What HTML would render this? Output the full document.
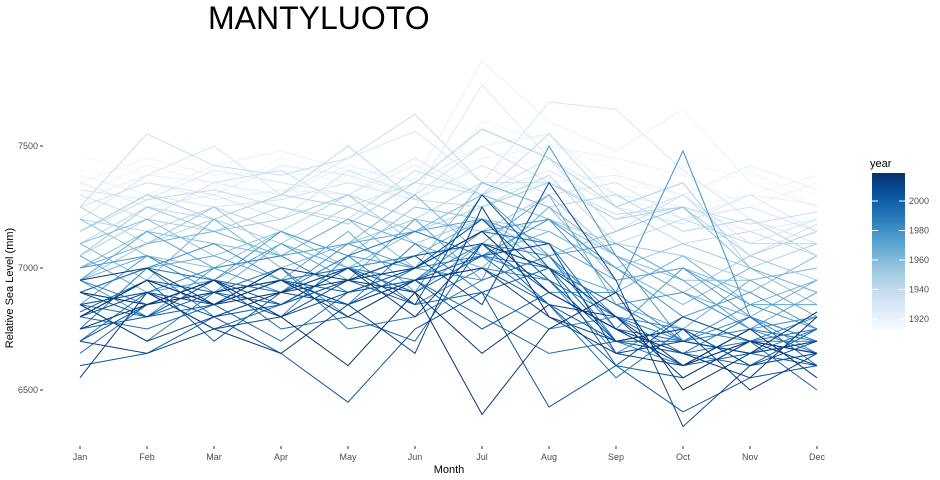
<!DOCTYPE html>
<html><head><meta charset="utf-8"><style>
body{margin:0;background:#fff;font-family:"Liberation Sans",sans-serif}
svg{display:block}
</style></head><body>
<svg id="chart" width="940" height="480">
<defs><linearGradient id="cb" x1="0" y1="1" x2="0" y2="0">
<stop offset="0" stop-color="#F7FBFF"/><stop offset="0.125" stop-color="#DEEBF7"/><stop offset="0.25" stop-color="#C6DBEF"/><stop offset="0.375" stop-color="#9ECAE1"/><stop offset="0.5" stop-color="#6BAED6"/><stop offset="0.625" stop-color="#4292C6"/><stop offset="0.75" stop-color="#2171B5"/><stop offset="0.875" stop-color="#08519C"/><stop offset="1" stop-color="#08306B"/></linearGradient></defs>
<text x="208" y="29" font-size="32" fill="#000">MANTYLUOTO</text>
<g id="lines"></g>
<g id="axes"></g>
<text transform="translate(13,288) rotate(-90)" text-anchor="middle" font-size="11" fill="#000">Relative Sea Level (mm)</text>
<text x="449" y="473" text-anchor="middle" font-size="11" fill="#000">Month</text>
<g>
<text x="870" y="167" font-size="11" fill="#000">year</text>
<rect x="872" y="173" width="33" height="157" fill="url(#cb)"/>
<g id="cbticks"></g>
</g>
</svg>
<script>
const months=["Jan","Feb","Mar","Apr","May","Jun","Jul","Aug","Sep","Oct","Nov","Dec"];
const yTicks=[6500,7000,7500];
const legendYears=[1920,1940,1960,1980,2000];
const years=[1912,1915,1918,1921,1924,1927,1930,1933,1936,1939,1942,1945,1948,1951,1954,1957,1960,1963,1966,1969,1972,1975,1978,1981,1984,1987,1990,1993,1996,1999,2002,2005,2008,2011,2014,2016,
1913,1917,1920,1926,1932,1938,1944,1950,1956,1962,1968,1974,1977,1980,1983,1986,1989,1992,1995,1998,2001,2004,2007,2010,2013,2015];
const levels=[
[7460,7380,7420,7350,7300,7280,7390,7450,7300,7420,7380,7300],
[7300,7420,7350,7280,7380,7250,7600,7520,7400,7250,7300,7380],
[7380,7300,7420,7480,7400,7360,7850,7600,7480,7650,7350,7250],
[7250,7350,7280,7320,7300,7420,7300,7350,7380,7300,7420,7320],
[7350,7250,7300,7420,7380,7300,7750,7450,7300,7250,7150,7200],
[7200,7380,7500,7300,7450,7560,7350,7680,7650,7400,7200,7100],
[7150,7300,7250,7280,7350,7280,7420,7300,7350,7200,7250,7150],
[7300,7200,7350,7400,7250,7350,7300,7450,7150,7300,7050,7180],
[7250,7550,7420,7380,7450,7630,7350,7350,7220,7250,7180,7230],
[7100,7250,7200,7300,7500,7280,7250,7380,7100,7200,7100,7100],
[7200,7150,7250,7150,7300,7200,7350,7250,7300,7150,7200,7050],
[7050,7200,7150,7250,7180,7350,7570,7450,7250,7350,7000,7100],
[7150,7300,7200,7100,7250,7150,7300,7200,7100,7050,6950,7000],
[6950,7100,7250,7050,7100,7200,7150,7300,7050,6900,7050,6950],
[7200,7050,7000,7150,7050,7250,7200,7050,7150,7250,7000,6850],
[7000,7150,7100,7050,7200,7000,7350,7250,6950,7000,6900,7050],
[7100,6950,7200,7000,7100,7300,7050,7150,7000,6850,7000,6900],
[6950,7050,6900,7100,7000,7050,7200,7000,6900,7050,6850,6950],
[6900,7000,7050,6950,7150,6900,7100,7300,6850,6750,6950,6800],
[7050,6900,6950,7100,6950,7200,6950,7050,7100,6950,6750,6900],
[6850,7050,6900,6950,7000,6900,7300,7050,6750,7000,6800,6700],
[6950,6800,7000,6900,7100,7000,6950,7500,7050,6700,6850,6750],
[6800,6950,6850,7000,6800,6950,7150,6900,6900,7480,6800,6650],
[6900,6850,6950,6800,7050,6850,7000,6950,6650,6800,6700,6800],
[6750,7000,6800,6900,6850,7100,6900,6750,6800,6700,6650,6750],
[6850,6700,6900,7000,6750,6800,6950,7050,6700,6600,6750,6700],
[6700,6900,6750,6850,7000,6900,7050,6850,6550,6750,6600,6650],
[6800,6750,6850,6700,6900,6950,6800,6650,6700,6650,6800,6600],
[6650,6850,6950,6750,6800,6700,7100,6850,6600,6550,6700,6500],
[6820,6950,6700,6900,6850,6950,6750,6900,6750,6600,6650,6700],
[6600,6650,6800,6650,6450,6750,6900,6430,6600,6410,6550,6600],
[6900,6800,6950,6850,7000,6850,7300,7000,6600,6800,6700,6650],
[6700,6650,6750,6800,6950,7050,6850,7350,6950,6350,6600,6700],
[6550,6900,6750,6650,6850,6650,7250,6800,6700,6750,6500,6650],
[6950,7000,6850,7000,6950,6900,6650,6850,6800,6600,6750,6550],
[6750,6850,6950,6800,6600,6900,6400,6750,6900,6500,6650,6820],
[7400,7350,7300,7450,7380,7420,7500,7400,7350,7300,7400,7250],
[7350,7450,7380,7400,7350,7300,7450,7500,7450,7380,7250,7350],
[7280,7380,7350,7300,7420,7350,7500,7550,7300,7200,7300,7260],
[7320,7280,7400,7350,7300,7450,7300,7400,7250,7180,7300,7150],
[7250,7350,7300,7200,7400,7300,7500,7350,7200,7300,7100,7200],
[7150,7280,7320,7250,7200,7400,7300,7550,7250,7100,7150,7050],
[7250,7100,7200,7300,7250,7150,7250,7350,7200,7250,7050,7150],
[7050,7250,7150,7200,7300,7100,7200,7150,7000,7100,7000,6900],
[7100,7200,7050,7150,7000,7150,7300,7200,7050,6950,6950,7000],
[7000,7100,7150,7050,7200,7100,7000,7250,7050,6900,6800,6950],
[6950,7150,7000,7050,7100,7150,7200,7100,6950,7000,6850,6850],
[7000,7050,6950,7150,7050,7000,7150,7200,7000,6800,6900,6750],
[6900,7000,7100,6950,7000,7050,7100,7000,6850,6900,6750,6800],
[6850,6900,7000,7050,6900,7000,7050,7200,6900,6700,6800,6700],
[6950,6850,6950,6900,7000,6950,7100,7050,6800,6750,6700,6700],
[6800,6950,6850,6950,7000,6900,7050,7000,6850,6700,6750,6650],
[6900,7000,6950,6900,7050,7150,7050,6950,6800,6650,6700,6750],
[6850,6800,6900,6950,6850,7000,7150,7100,6750,6700,6650,6700],
[6800,6950,6900,6850,6950,6850,6900,7000,6700,6650,6600,6750],
[6750,6800,6850,6950,6900,6950,7000,6850,6700,6700,6650,6600],
[6850,6900,6800,6850,6950,7050,7100,6900,6750,6600,6700,6650],
[6700,6850,6900,6800,6900,7000,7200,6950,6700,6750,6600,6650],
[6800,6900,6850,6950,6850,6950,7050,7100,6650,6700,6650,6700],
[6850,6700,6800,6900,7000,6800,7100,7000,6800,6550,6700,6600],
[6900,6850,6900,6950,6800,6950,7000,6800,6650,6600,6700,6650],
[6800,6950,6850,6900,6950,7000,7150,6900,6750,6650,6550,6800]
];
const NS="http://www.w3.org/2000/svg";
const x=i=>80+i*(817-80)/11;
const y=v=>268-(v-7000)*122/500;
const stops=["#F7FBFF","#DEEBF7","#C6DBEF","#9ECAE1","#6BAED6","#4292C6","#2171B5","#08519C","#08306B"];
function hex(h){return [1,3,5].map(i=>parseInt(h.substr(i,2),16));}
function color(yr){let t=Math.max(0,Math.min(1,(yr-1911)/(2017-1911)))*8;let i=Math.min(7,Math.floor(t)),f=t-i;
const a=hex(stops[i]),b=hex(stops[i+1]);return "rgb("+a.map((c,k)=>Math.round(c+(b[k]-c)*f)).join(",")+")";}
const lg=document.getElementById("lines");
const order=years.map((_,j)=>j).sort((a,b)=>years[a]-years[b]);
order.forEach(j=>{
  const yr=years[j];
  const p=document.createElementNS(NS,"polyline");
  p.setAttribute("points",levels[j].map((v,i)=>x(i)+","+y(v)).join(" "));
  p.setAttribute("fill","none");p.setAttribute("stroke",color(yr));p.setAttribute("stroke-width","1");
  
  
  lg.appendChild(p);
});
const ax=document.getElementById("axes");
months.forEach((m,i)=>{
  const l=document.createElementNS(NS,"line");
  l.setAttribute("x1",x(i));l.setAttribute("x2",x(i));l.setAttribute("y1",446);l.setAttribute("y2",449);l.setAttribute("stroke","#333");
  
  
  ax.appendChild(l);
  const t=document.createElementNS(NS,"text");
  t.setAttribute("x",x(i));t.setAttribute("y",460);t.setAttribute("text-anchor","middle");t.setAttribute("font-size","9");t.setAttribute("fill","#4d4d4d");
  t.textContent=m;
  
  
  ax.appendChild(t);
});
yTicks.forEach(v=>{
  const l=document.createElementNS(NS,"line");
  l.setAttribute("x1",40);l.setAttribute("x2",43);l.setAttribute("y1",y(v));l.setAttribute("y2",y(v));l.setAttribute("stroke","#333");
  
  
  ax.appendChild(l);
  const t=document.createElementNS(NS,"text");
  t.setAttribute("x",38);t.setAttribute("y",y(v)+3);t.setAttribute("text-anchor","end");t.setAttribute("font-size","9");t.setAttribute("fill","#4d4d4d");
  t.textContent=v;
  
  
  ax.appendChild(t);
});
const cb=document.getElementById("cbticks");
const cy=yr=>319-(yr-1920)*29.5/20;
legendYears.forEach(yr=>{
  [872,899].forEach(x0=>{const l=document.createElementNS(NS,"line");
  l.setAttribute("x1",x0);l.setAttribute("x2",x0+6);l.setAttribute("y1",cy(yr));l.setAttribute("y2",cy(yr));l.setAttribute("stroke","#fff");
  
  
  cb.appendChild(l);});
  const t=document.createElementNS(NS,"text");
  t.setAttribute("x",909);t.setAttribute("y",cy(yr)+3);t.setAttribute("font-size","9");t.setAttribute("fill","#4d4d4d");
  t.textContent=yr;
  
  
  cb.appendChild(t);
});
</script>
</body></html>
